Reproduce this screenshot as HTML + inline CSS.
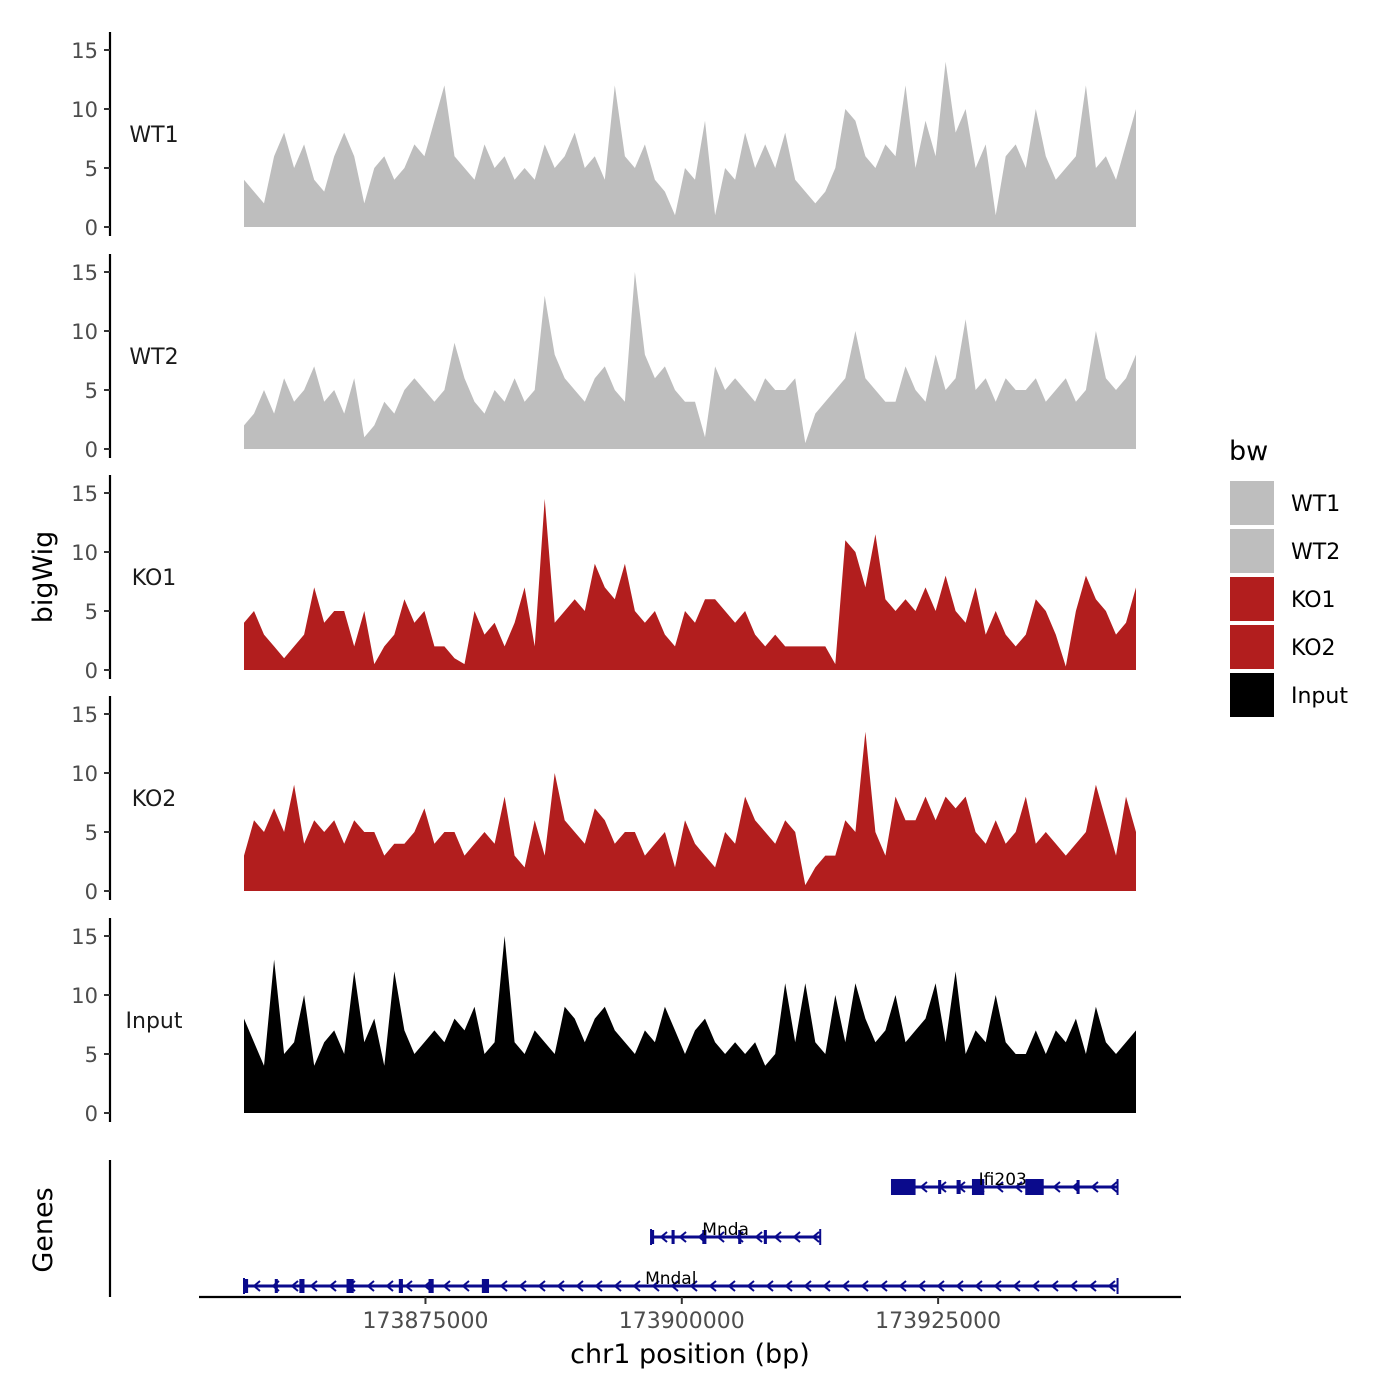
<!DOCTYPE html>
<html><head><meta charset="utf-8">
<style>
html,body{margin:0;padding:0;background:#fff;}
svg{display:block;font-family:"DejaVu Sans","Liberation Sans",sans-serif;}
</style></head>
<body>
<svg id="chart" width="1400" height="1400" viewBox="0 0 1400 1400"></svg>
<script>
const trackNames = ["WT1","WT2","KO1","KO2","Input"];
const trackColors = ["#bebebe","#bebebe","#b21e1e","#b21e1e","#000000"];
const wt1 = [4,3,2,6,8,5,7,4,3,6, 8,6,2,5,6,4,5,7,6,9, 12,6,5,4,7,5,6,4,5,4, 7,5,6,8,5,6,4,12,6,5, 7,4,3,1,5,4,9,1,5,4, 8,5,7,5,8,4,3,2,3,5, 10,9,6,5,7,6,12,5,9,6, 14,8,10,5,7,1,6,7,5,10, 6,4,5,6,12,5,6,4,7,10];
const wt2 = [2,3,5,3,6,4,5,7,4,5, 3,6,1,2,4,3,5,6,5,4, 5,9,6,4,3,5,4,6,4,5, 13,8,6,5,4,6,7,5,4,15, 8,6,7,5,4,4,1,7,5,6, 5,4,6,5,5,6,0.5,3,4,5, 6,10,6,5,4,4,7,5,4,8, 5,6,11,5,6,4,6,5,5,6, 4,5,6,4,5,10,6,5,6,8];
const ko1 = [4,5,3,2,1,2,3,7,4,5, 5,2,5,0.5,2,3,6,4,5,2, 2,1,0.5,5,3,4,2,4,7,2, 14.5,4,5,6,5,9,7,6,9,5, 4,5,3,2,5,4,6,6,5,4, 5,3,2,3,2,2,2,2,2,0.5, 11,10,7,11.5,6,5,6,5,7,5, 8,5,4,7,3,5,3,2,3,6, 5,3,0.3,5,8,6,5,3,4,7];
const ko2 = [3,6,5,7,5,9,4,6,5,6, 4,6,5,5,3,4,4,5,7,4, 5,5,3,4,5,4,8,3,2,6, 3,10,6,5,4,7,6,4,5,5, 3,4,5,2,6,4,3,2,5,4, 8,6,5,4,6,5,0.5,2,3,3, 6,5,13.5,5,3,8,6,6,8,6, 8,7,8,5,4,6,4,5,8,4, 5,4,3,4,5,9,6,3,8,5];
const inputSig = [8,6,4,13,5,6,10,4,6,7, 5,12,6,8,4,12,7,5,6,7, 6,8,7,9,5,6,15,6,5,7, 6,5,9,8,6,8,9,7,6,5, 7,6,9,7,5,7,8,6,5,6, 5,6,4,5,11,6,11,6,5,10, 6,11,8,6,7,10,6,7,8,11, 6,12,5,7,6,10,6,5,5,7, 5,7,6,8,5,9,6,5,6,7];
const yTicks = [0,5,10,15];
const xTicks = [173875000,173900000,173925000];
const xTickLabels = ["173875000","173900000","173925000"];
const regionStart = 173857300, regionEnd = 173944300;
const geneNames = ["Ifi203","Mnda","Mndal"];
const geneStarts = [173920500,173897000,173857300];
const geneEnds = [173942500,173913500,173942500];
const geneExons = [[[173920500,173922800],[173928300,173929500],[173933500,173935300],[173925000,173925300],[173926800,173927200],[173938500,173938800]],
  [[173897000,173897300],[173899000,173899300],[173902000,173902400],[173905500,173905800],[173908000,173908300]],
  [[173857300,173857700],[173860300,173860600],[173862700,173863200],[173867300,173868000],[173872400,173872800],[173875300,173875800],[173880500,173881200]]];

const svg = document.getElementById('chart');
const NS = "http://www.w3.org/2000/svg";
function el(tag, attrs, parent){const e=document.createElementNS(NS,tag);for(const k in attrs)e.setAttribute(k,attrs[k]);(parent||svg).appendChild(e);return e;}
const xScale = bp => 244 + (bp - regionStart) / (regionEnd - regionStart) * (1136 - 244);
const pxPerUnit = 11.8;
const baseYs = [227,449,670,891,1113];
const series = [wt1,wt2,ko1,ko2,inputSig];

series.forEach((vals,t)=>{
  const base = baseYs[t];
  const y = v => base - v*pxPerUnit;
  const g = el('g',{});
  
  
  const n = vals.length;
  const xi = i => 244 + i*(1136-244)/(n-1);
  let d = 'M244,'+base;
  vals.forEach((v,i)=>{ d += ' L'+xi(i).toFixed(1)+','+y(v).toFixed(1); });
  d += ' L1136,'+base+' Z';
  const p = el('path',{d:d,fill:trackColors[t],stroke:'none'},g);
  
  
  const ax = el('line',{x1:110,x2:110,y1:base-195,y2:base+9,stroke:'#000','stroke-width':2.2},g);
  
  
  yTicks.forEach(tv=>{
    el('line',{x1:104,x2:110,y1:y(tv),y2:y(tv),stroke:'#333','stroke-width':2},g);
    const tx = el('text',{x:98,y:y(tv)+8,'text-anchor':'end','font-size':21,fill:'#4d4d4d'},g);
    tx.textContent = tv;
    
    
  });
  const lb = el('text',{x:154,y:base-85,'text-anchor':'middle','font-size':22,fill:'#1a1a1a'},g);
  lb.textContent = trackNames[t];
  
  
});

const yt = el('text',{x:0,y:0,transform:'translate(52,577) rotate(-90)','text-anchor':'middle','font-size':27,fill:'#000'});
yt.textContent='bigWig';


const gt = el('text',{x:0,y:0,transform:'translate(52,1230) rotate(-90)','text-anchor':'middle','font-size':27,fill:'#000'});
gt.textContent='Genes';



el('line',{x1:110,x2:110,y1:1160,y2:1297,stroke:'#000','stroke-width':2.2});
const xa = el('line',{x1:199,x2:1181,y1:1297,y2:1297,stroke:'#000','stroke-width':2.2});


xTicks.forEach((b,i)=>{
  el('line',{x1:xScale(b),x2:xScale(b),y1:1297,y2:1304,stroke:'#333','stroke-width':2});
  const t = el('text',{x:xScale(b),y:1328,'text-anchor':'middle','font-size':22,fill:'#4d4d4d'});
  t.textContent = xTickLabels[i];
  
  
});
const xt = el('text',{x:690,y:1363,'text-anchor':'middle','font-size':27,fill:'#000'});
xt.textContent='chr1 position (bp)';



const geneY = [1187,1237,1286];
const gc = '#0a0a8c';
geneNames.forEach((name,gi)=>{
  const gy = geneY[gi];
  const g = el('g',{});
  
  
  const x1 = xScale(geneStarts[gi]), x2 = xScale(geneEnds[gi]);
  el('line',{x1:x1,x2:x2,y1:gy,y2:gy,stroke:gc,'stroke-width':3},g);
  el('line',{x1:x1,x2:x1,y1:gy-8,y2:gy+8,stroke:gc,'stroke-width':2},g);
  el('line',{x1:x2,x2:x2,y1:gy-8,y2:gy+8,stroke:gc,'stroke-width':2},g);
  for(let x=x1+12;x<x2-4;x+=19){
    el('path',{d:`M${x+4},${gy-5} L${x-2},${gy} L${x+4},${gy+5}`,fill:'none',stroke:gc,'stroke-width':2},g);
  }
  geneExons[gi].forEach(ex=>{
    const a=xScale(ex[0]), b=xScale(ex[1]);
    const w = Math.max(b-a,2.5);
    const h = (w>8)?16:14;
    el('rect',{x:a,y:gy-h/2,width:w,height:h,fill:gc},g);
  });
  const lt = el('text',{x:(x1+x2)/2+ (gi===0?-2:-10),y:gy-2,'text-anchor':'middle','font-size':17,fill:'#000'},g);
  lt.textContent = name;
  
  
});

const leg = el('g',{});


const lt = el('text',{x:1229,y:460,'font-size':27,fill:'#000'},leg);
lt.textContent='bw';


trackNames.forEach((n,i)=>{
  const e = el('g',{},leg);
  
  
  el('rect',{x:1230,y:481+i*48,width:44,height:44,fill:trackColors[i]},e);
  const t = el('text',{x:1291,y:511+i*48,'font-size':22,fill:'#000'},e);
  t.textContent = n;
});
</script>
</body></html>
